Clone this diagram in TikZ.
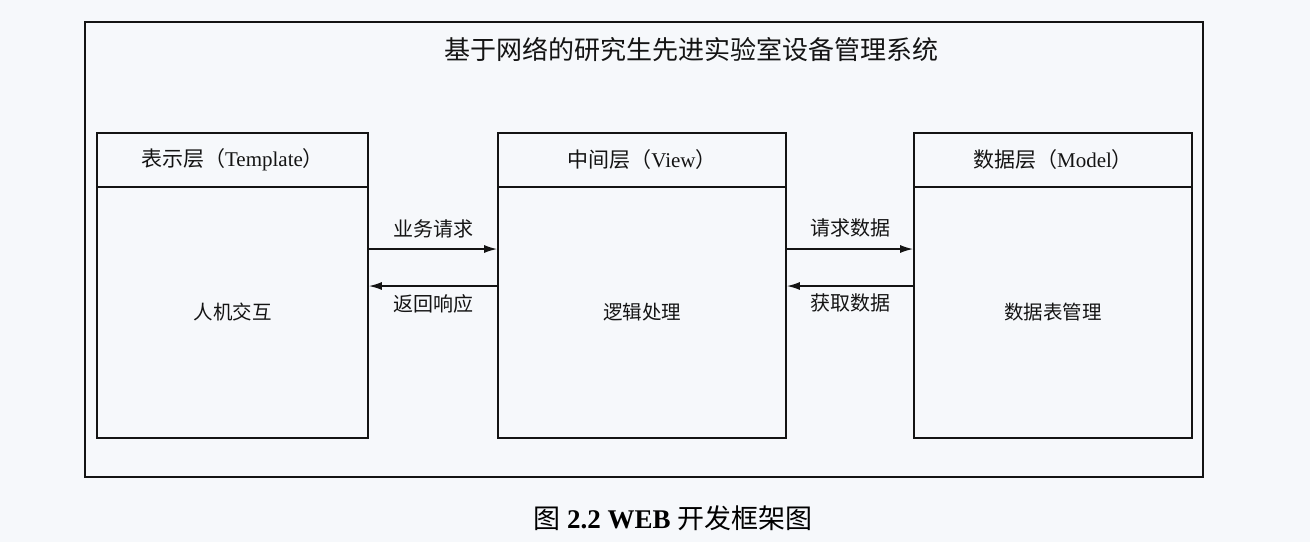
\documentclass[tikz,border=0pt]{standalone}
\usepackage{fontspec}
\setmainfont{Liberation Serif}
\newfontfamily\cjk{Noto Sans CJK SC}
\usetikzlibrary{arrows.meta}
\definecolor{paper}{RGB}{246,248,251}
\definecolor{ink}{RGB}{20,20,20}
\tikzset{
  frame/.style={draw=ink, line width=1.7pt},
  hdr/.style={draw=ink, line width=1.7pt, minimum height=54pt, inner sep=0pt, font=\fontsize{21}{24}\selectfont, text=ink},
  body/.style={draw=ink, line width=1.7pt, minimum height=251pt, inner sep=0pt, font=\fontsize{19.5}{22}\selectfont\cjk, text=ink},
  lbl/.style={font=\fontsize{20}{22}\selectfont\cjk, text=ink, inner sep=0pt},
  arr/.style={draw=ink, line width=1.5pt, -{Latex[length=13pt,width=8pt]}},
}
\begin{document}
\begin{tikzpicture}[x=1pt,y=-1pt]
\fill[paper] (0,0) rectangle (1310,542);
\useasboundingbox (0,0) rectangle (1310,542);
\node[frame, minimum width=1118pt, minimum height=455pt, inner sep=0pt] (outer) at (644,249.5) {};
\node[font=\fontsize{26}{30}\selectfont\cjk, text=ink] (title) at (691,50) {基于网络的研究生先进实验室设备管理系统};
% left
\node[hdr, minimum width=271pt] (lh) at (232.5,160) {{\cjk 表示层（}Template{\cjk ）}};
\node[body, minimum width=271pt] (lb) at (232.5,312.5) {人机交互};
% middle
\node[hdr, minimum width=288pt] (mh) at (642,160) {{\cjk 中间层（}View{\cjk ）}};
\node[body, minimum width=288pt] (mb) at (642,312.5) {逻辑处理};
% right
\node[hdr, minimum width=278pt] (rh) at (1053,160) {{\cjk 数据层（}Model{\cjk ）}};
\node[body, minimum width=278pt] (rb) at (1053,312.5) {数据表管理};
% arrows
\coordinate (up) at (0,249);
\coordinate (dn) at (0,286);
\draw[arr] (lb.east |- up) -- (mb.west |- up);
\draw[arr] (mb.west |- dn) -- (lb.east |- dn);
\draw[arr] (mb.east |- up) -- (rb.west |- up);
\draw[arr] (rb.west |- dn) -- (mb.east |- dn);
\node[lbl] (l1) at (433,229) {业务请求};
\node[lbl] (l2) at (433,304) {返回响应};
\node[lbl] (l3) at (850,228) {请求数据};
\node[lbl] (l4) at (850,303) {获取数据};
% caption
\node[font=\fontsize{27}{30}\selectfont, text=black] (cap) at (673,518) {{\cjk 图} \textbf{2.2 WEB} {\cjk 开发框架图}};
\end{tikzpicture}
\end{document}
